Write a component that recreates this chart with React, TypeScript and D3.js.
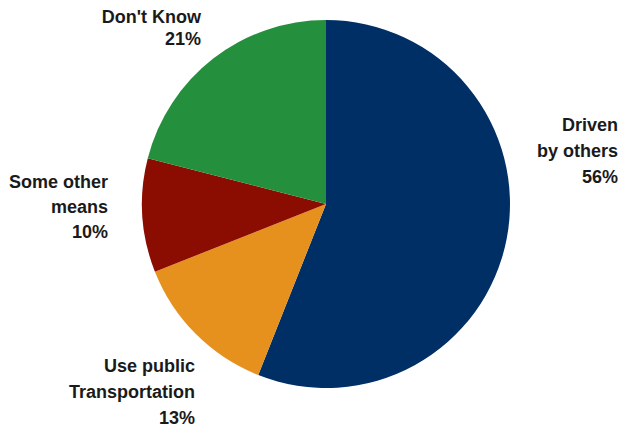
import React from "react";
import * as d3 from "d3";

const categories = ["Driven by others", "Use public Transportation", "Some other means", "Don't Know"];
const values = [56, 13, 10, 21];
const labelLines = [
  ["Driven", "by others", "56%"],
  ["Use public", "Transportation", "13%"],
  ["Some other", "means", "10%"],
  ["Don't Know", "21%"],
];
const colors = ["#002f66", "#e6901e", "#8b0d02", "#24903d"];

// layout: right edge x, first baseline y, line spacing
const labelLayout = [
  { x: 618, y: 131, dy: 26 },
  { x: 195, y: 372, dy: 26 },
  { x: 108, y: 188, dy: 25 },
  { x: 201, y: 23, dy: 22 },
];

export default function App() {
  const width = 623;
  const height = 429;
  const cx = 326;
  const cy = 204;
  const r = 184;

  const pie = d3.pie<number>().sort(null).value((d) => d);
  const arcs = pie(values);
  const arc = d3.arc<d3.PieArcDatum<number>>().innerRadius(0).outerRadius(r);

  return (
    <svg
      width={width}
      height={height}
      style={{ position: "absolute", left: 0, top: 0, background: "#fff" }}
    >
      <g transform={`translate(${cx},${cy})`}>
        {arcs.map((a, i) => (
          <path key={categories[i]} d={arc(a) || ""} fill={colors[i]} />
        ))}
      </g>
      {labelLines.map((lines, i) => (
        <text
          key={categories[i]}
          textAnchor="end"
          fontFamily="'Liberation Sans', Arial, sans-serif"
          fontWeight="bold"
          fontSize={18}
          fill="#1a1a1a"
        >
          {lines.map((l, j) => (
            <tspan key={j} x={labelLayout[i].x} y={labelLayout[i].y + j * labelLayout[i].dy}>
              {l}
            </tspan>
          ))}
        </text>
      ))}
    </svg>
  );
}
